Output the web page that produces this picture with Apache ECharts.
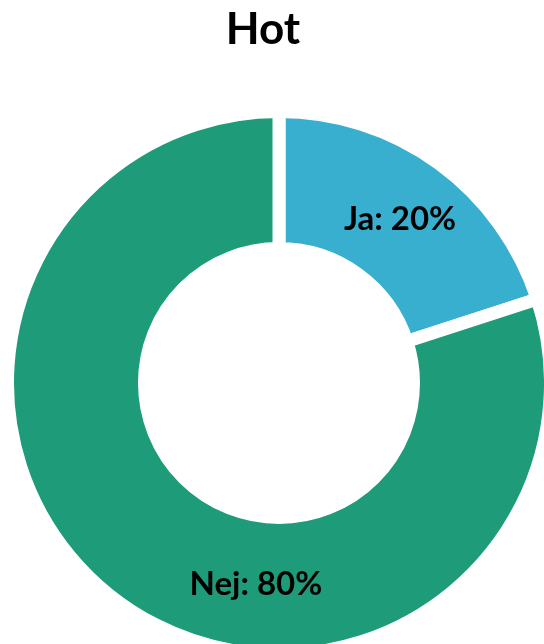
<!DOCTYPE html>
<html>
<head>
<meta charset="utf-8">
<script src="https://cdn.jsdelivr.net/npm/echarts@6/dist/echarts.min.js"></script>
<style>
  html, body { margin: 0; padding: 0; background: #fff; }
  #chart { width: 544px; height: 644px; }
</style>
</head>
<body>
<div id="chart"></div>
<script>
// answers and their shares (percent)
var categories = ['Ja', 'Nej'];
var values = [20, 80];
var colors = ['#38afcf', '#1e9b78'];

var chart = echarts.init(document.getElementById('chart'));

var pieData = categories.map(function (name, i) {
    var item = { name: name, value: values[i], itemStyle: { color: colors[i] } };
    // Excel puts the big slice label further toward the bottom
    if (name === 'Nej') {
        item.label = { offset: [98, 35] };
    } else {
        item.label = { offset: [0, 3] };
    }
    return item;
});

var option = {
    backgroundColor: '#fff',
    animation: false,
    title: {
        text: 'Hot',
        left: 258,
        top: 3,
        textAlign: 'center',
        textStyle: {
            fontFamily: 'Lato',
            fontWeight: 'bold',
            fontSize: 44,
            color: '#000'
        }
    },
    series: [{
        type: 'pie',
        center: [279, 383],
        radius: [134.5, 271.5],
        startAngle: 90,
        clockwise: true,
        avoidLabelOverlap: false,
        itemStyle: {
            borderColor: '#fff',
            borderWidth: 13
        },
        label: {
            show: true,
            position: 'inside',
            formatter: '{b}: {d}%',
            fontFamily: 'Lato',
            fontWeight: 'bold',
            fontSize: 33,
            color: '#000'
        },
        labelLine: { show: false },
        emphasis: { disabled: true },
        data: pieData
    }]
};

chart.setOption(option);
</script>
</body>
</html>
